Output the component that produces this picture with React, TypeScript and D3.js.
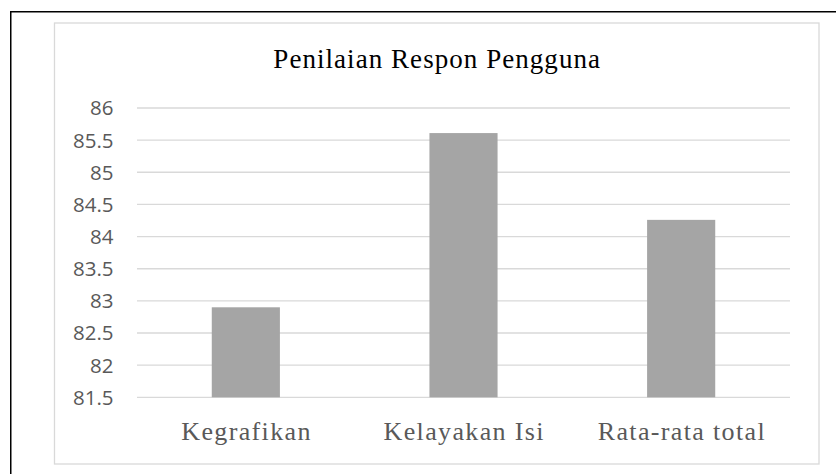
import React from 'react';
import * as d3 from 'd3';

const categories = ['Kegrafikan', 'Kelayakan Isi', 'Rata-rata total'];
const values = [82.9, 85.61, 84.26];
const yTicks = [81.5, 82, 82.5, 83, 83.5, 84, 84.5, 85, 85.5, 86];
const title = 'Penilaian Respon Pengguna';

const W = 836;
const H = 474;
const plot = { left: 137, right: 790, top: 108, bottom: 397.3 };

export default function App() {
  const x = d3.scaleBand<string>()
    .domain(categories)
    .range([plot.left, plot.right])
    .padding(0);

  const y = d3.scaleLinear()
    .domain([81.5, 86])
    .range([plot.bottom, plot.top]);

  const barW = x.bandwidth() * 0.313;
  const serif = '"Liberation Serif", "Times New Roman", serif';
  const sans = '"Open Sans", "Noto Sans", sans-serif';

  return (
    <svg width={W} height={H} style={{ position: 'absolute', left: 0, top: 0, background: '#fff' }}>
      {/* outer frame, only top/left visible */}
      <rect x={10.75} y={11.75} width={900} height={600} fill="none" stroke="#000" strokeWidth={1.5} />
      {/* chart area */}
      <rect x={54.5} y={23} width={764.5} height={441} fill="#fff" stroke="#d9d9d9" strokeWidth={1.3} />

      <text x={437.2} y={68} textAnchor="middle" fontFamily={serif} fontSize={27}
        letterSpacing={1.05} fill="#000">{title}</text>

      {/* gridlines + y labels */}
      {yTicks.map(t => (
        <g key={t}>
          <line x1={plot.left} x2={plot.right} y1={y(t)} y2={y(t)} stroke="#d9d9d9" strokeWidth={1.33} />
          <text x={113.5} y={y(t)} dy="0.36em" textAnchor="end" fontFamily={sans}
            fontSize={20.5} fill="#595959">{t}</text>
        </g>
      ))}

      {/* bars */}
      {categories.map((c, i) => (
        <rect key={c}
          x={x(c)! + x.bandwidth() / 2 - barW / 2}
          y={y(values[i])}
          width={barW}
          height={y(81.5) - y(values[i])}
          fill="#a5a5a5" />
      ))}

      {/* category labels */}
      {categories.map(c => (
        <text key={c} x={x(c)! + x.bandwidth() / 2 + 0.7} y={440} textAnchor="middle"
          fontFamily={serif} fontSize={26} letterSpacing={1.35} fill="#595959">{c}</text>
      ))}
    </svg>
  );
}
